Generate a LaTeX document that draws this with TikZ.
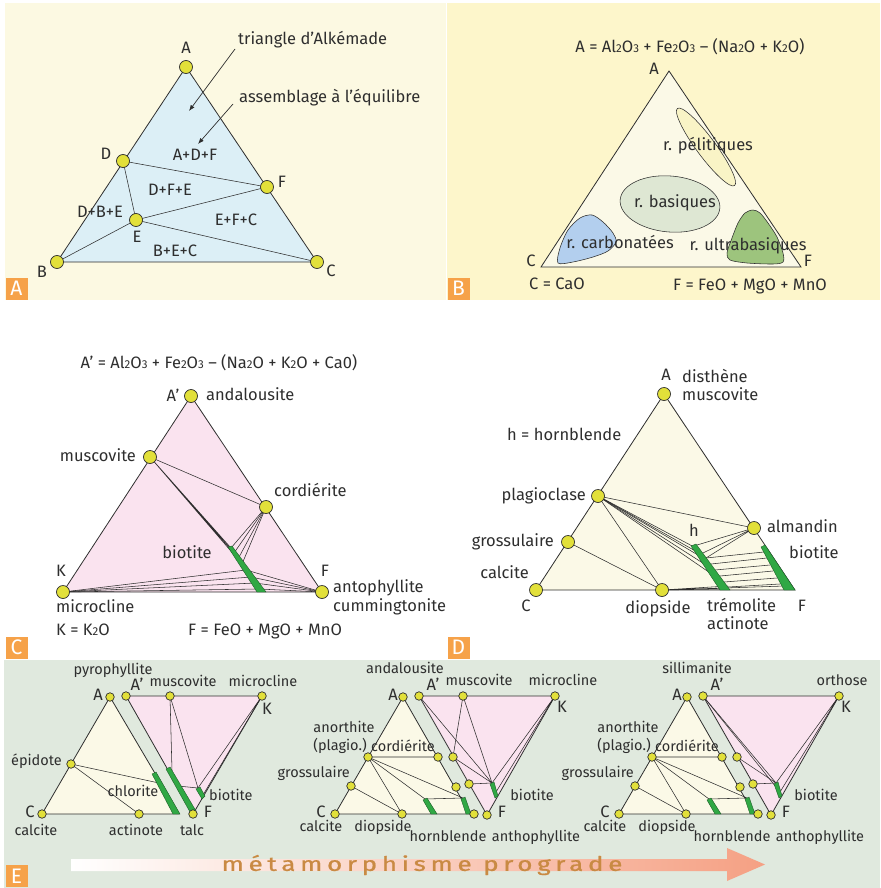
\documentclass[tikz,border=0pt]{standalone}
\usepackage{fontspec}
\setmainfont{Fira Sans}
\usepackage{graphicx}
\usepackage{tikz}
\usetikzlibrary{positioning, arrows.meta}
\definecolor{ink}{HTML}{2E2E2E}
\definecolor{bgA}{HTML}{FCF9E2}
\definecolor{bgB}{HTML}{FDF6CB}
\definecolor{bgE}{HTML}{E0E9DE}
\definecolor{triblue}{HTML}{DCEFF6}
\definecolor{tricream}{HTML}{FBF9E7}
\definecolor{tripink}{HTML}{FAE3EF}
\definecolor{dotyellow}{HTML}{E2E03A}
\definecolor{bandgreen}{HTML}{30A844}
\definecolor{bandedge}{HTML}{1E5E28}
\definecolor{pelyellow}{HTML}{F9F4C6}
\definecolor{basgreen}{HTML}{DEE7D3}
\definecolor{carbblue}{HTML}{B3CFEE}
\definecolor{ultragreen}{HTML}{9DC47D}
\definecolor{tagorange}{HTML}{F6A249}
\definecolor{arrowsalmon}{HTML}{F5A083}
\definecolor{progbrown}{HTML}{C98A43}
\newcommand{\subnum}[1]{\raisebox{-0.6pt}{\fontsize{11.5}{11.5}\selectfont #1}}
\tikzstyle{rim}     = [draw=ink, line width=0.8pt]
\tikzstyle{tie}     = [draw=ink, line width=0.55pt]
\tikzstyle{dot}     = [circle, draw=ink, line width=0.7pt, fill=dotyellow, minimum size=13pt, inner sep=0pt]
\tikzstyle{dotsm}   = [dot, minimum size=8.5pt]
\tikzstyle{band}    = [fill=bandgreen, draw=bandedge, line width=0.4pt]
\tikzstyle{lbl}     = [text=ink, inner sep=0pt, font=\fontsize{16.5}{18}\selectfont, text height=12pt, text depth=3.5pt]
\tikzstyle{lblsm}   = [lbl, font=\fontsize{14.5}{16}\selectfont, text height=10.5pt, text depth=3pt]
\tikzstyle{tag}     = [fill=tagorange, text=white, minimum size=22pt, inner sep=0pt, font=\fontsize{21}{21}\selectfont]
\tikzstyle{pointer} = [draw=ink, line width=0.7pt, -{Latex[length=6pt, width=4.5pt]}]
\tikzstyle{prog}    = [text=progbrown, inner sep=0pt, font=\fontsize{20}{20}\selectfont\addfontfeatures{LetterSpace=18, FakeBold=0.8}]
\begin{document}
\begin{tikzpicture}[x=1pt, y=-1pt]
            \useasboundingbox (0,0) rectangle (880,888);
            \fill[bgA] (5,3) rectangle (446,300);
            \fill[bgB] (447,3) rectangle (880,300);
            \fill[bgE] (4,660) rectangle (880,888);

            \coordinate (aA) at (186,67);
            \coordinate (aB) at (57,262);
            \coordinate (aC) at (317,262);
            \coordinate (aD) at (123,161);
            \coordinate (aE) at (136,220);
            \coordinate (aF) at (267,187);
            \filldraw[rim, fill=triblue] (aA) -- (aB) -- (aC) -- cycle;
            \draw[tie] (aD) -- (aF) -- (aE) -- (aD);
            \draw[tie] (aB) -- (aE) -- (aC);
            \foreach \p in {A,B,C,D,E,F} \node[dot] (a\p-d) at (a\p) {};
            \node[lbl] (aA-l) at (186,49) {A};
            \node[lbl] (aB-l) at (42,273) {B};
            \node[lbl] (aC-l) at (331,272) {C};
            \node[lbl] (aD-l) at (106,155) {D};
            \node[lbl] (aE-l) at (137,238) {E};
            \node[lbl] (aF-l) at (282,183) {F};
            \node[lbl] (adf) at (195,156) {A+D+F};
            \node[lbl] (dfe) at (170,191) {D+F+E};
            \node[lbl] (dbe) at (100,213) {D+B+E};
            \node[lbl] (efc) at (236,221) {E+F+C};
            \node[lbl] (bec) at (175,252) {B+E+C};
            \node[lbl, anchor=west] (alk) at (238,40) {triangle d’Alkémade};
            \node[lbl, anchor=west] (equ) at (239,98) {assemblage à l’équilibre};
            \coordinate (alk0) at (235,49);
            \coordinate (alk1) at (189,111);
            \coordinate (equ0) at (233,104);
            \coordinate (equ1) at (198,144);
            \draw[pointer] (alk0) -- (alk1);
            \draw[pointer] (equ0) -- (equ1);

            \coordinate (bA) at (669,71);
            \coordinate (bC) at (541,267);
            \coordinate (bF) at (801,267);
            \filldraw[rim, fill=tricream] (bA) -- (bC) -- (bF) -- cycle;
            \filldraw[tie, fill=pelyellow] (706,147) ellipse [x radius=48, y radius=9.5, rotate=-53.5];
            \filldraw[tie, fill=basgreen] (670,204) ellipse [x radius=50, y radius=28, rotate=-5];
            \filldraw[tie, fill=carbblue] plot[smooth cycle] coordinates {(558,263) (560,248) (568,230) (580,218) (592,215) (603,222) (613,233) (616,242) (608,251) (593,257) (573,262)};
            \filldraw[tie, fill=ultragreen] plot[smooth cycle] coordinates {(753,210) (745,213) (738,223) (732,238) (727,253) (730,260) (747,263) (773,264) (783,262) (783,253) (777,237) (768,223) (760,213)};
            \node[lbl] (bTitle) at (690,48) {A = Al\subnum{2}O\subnum{3} + Fe\subnum{2}O\subnum{3} – (Na\subnum{2}O + K\subnum{2}O)};
            \node[lbl] (bA-l) at (654,70) {A};
            \node[lbl] (bC-l) at (531,262) {C};
            \node[lbl] (bF-l) at (808,262) {F};
            \node[lbl] (pel) at (708,146) {r. pélitiques};
            \node[lbl] (bas) at (675,203) {r. basiques};
            \node[lbl] (carb) at (620,244) {r. carbonatées};
            \node[lbl] (ultra) at (748,246) {r. ultrabasiques};
            \node[lbl] (bCdef) at (557,285) {C = CaO};
            \node[lbl] (bFdef) at (750,286) {F = FeO + MgO + MnO};

            \coordinate (cA) at (191,396);
            \coordinate (cK) at (63,592);
            \coordinate (cF) at (322,592);
            \coordinate (cMus) at (150,457);
            \coordinate (cCrd) at (266,507);
            \foreach \i/\x/\y in {1/231/548, 2/234/553, 3/238/559, 4/242/564, 5/246/570, 6/251/577, 7/255/583, 8/259/589} \coordinate (cb\i) at (\x,\y);
            \filldraw[rim, fill=tripink] (cA) -- (cK) -- (cF) -- cycle;
            \draw[tie] (cMus) -- (cCrd);
            \draw[tie] (cMus) -- (cb1) (cMus) -- (cb2) (cMus) -- (cb4);
            \foreach \i in {1,...,4} \draw[tie] (cCrd) -- (cb\i);
            \foreach \i in {5,...,8} \draw[tie] (cK) -- (cb\i) -- (cF);
            \filldraw[band] (228,547) -- (232,546) -- (266,592) -- (257,592) -- cycle;
            \foreach \p in {A,K,F,Mus,Crd} \node[dot] (c\p-d) at (c\p) {};
            \node[lbl] (cTitle) at (219,364) {A’ = Al\subnum{2}O\subnum{3} + Fe\subnum{2}O\subnum{3} – (Na\subnum{2}O + K\subnum{2}O + Ca0)};
            \node[lbl] (cA-l) at (173,397) {A’};
            \node[lbl, right=8pt of cA-d] (cAnd-l) {andalousite};
            \node[lbl, left=7pt of cMus-d] (cMus-l) {muscovite};
            \node[lbl, anchor=west] (cCrd-l) at (274,492) {cordiérite};
            \node[lbl] (cBi-l) at (187,554) {biotite};
            \node[lbl] (cK-l) at (61,572) {K};
            \node[lbl] (cF-l) at (325,572) {F};
            \node[lbl, anchor=west] (cAnt-l) at (333,588) {antophyllite};
            \node[lbl, anchor=west] (cCum-l) at (333,607) {cummingtonite};
            \node[lbl, anchor=west] (cMic-l) at (56,608) {microcline};
            \node[lbl, anchor=west] (cKdef) at (56,631) {K = K\subnum{2}O};
            \node[lbl, anchor=west] (cFdef) at (188,631) {F = FeO + MgO + MnO};

            \coordinate (dA) at (664,394);
            \coordinate (dC) at (536,590);
            \coordinate (dF) at (795,590);
            \coordinate (dPl) at (598,496);
            \coordinate (dGr) at (568,542);
            \coordinate (dDi) at (662,590);
            \coordinate (dAl) at (754,528);
            \coordinate (dh0) at (697,545);
            \coordinate (dh1) at (696,548);
            \coordinate (dh2) at (699,553);
            \coordinate (dh3) at (703,558);
            \coordinate (dh4) at (709,567);
            \coordinate (dh5) at (716,577);
            \coordinate (dh6) at (703,553);
            \coordinate (dh7) at (722,589);
            \coordinate (dh8) at (728,586);
            \coordinate (db1) at (785,586);
            \filldraw[rim, fill=tricream] (dA) -- (dC) -- (dF) -- cycle;
            \foreach \xl/\yl/\xr/\yr [count=\i] in {706/558/764/552, 711/564/767/558, 715/570/770/565, 720/576/773/571, 724/582/777/578, 728/587/780/584} {
                \coordinate (dl\i) at (\xl,\yl);
                \coordinate (dr\i) at (\xr,\yr);
                \draw[tie] (dl\i) -- (dr\i);
            }
            \draw[tie] (dPl) -- (dAl) (dPl) -- (dDi) (dGr) -- (dDi);
            \foreach \i in {1,...,5} \draw[tie] (dPl) -- (dh\i);
            \draw[tie] (dAl) -- (dh0) (dAl) -- (dh6) (dAl) -- (dl1);
            \draw[tie] (dDi) -- (dh7) (dDi) -- (dh8) (dDi) -- (db1);
            \filldraw[band] (691,546) -- (696,544) -- (730,590) -- (720,590) -- cycle;
            \filldraw[band] (761,547) -- (765,545) -- (795,590) -- (784,590) -- cycle;
            \foreach \p in {A,C,Pl,Gr,Di,Al} \node[dot] (d\p-d) at (d\p) {};
            \node[lbl] (dA-l) at (666,376) {A};
            \node[lbl, anchor=west] (dDis-l) at (682,378) {disthène};
            \node[lbl, anchor=west] (dMus-l) at (682,396) {muscovite};
            \node[lbl, anchor=west] (dHb-l) at (507,436) {h = hornblende};
            \node[lbl, left=5pt of dPl-d] (dPl-l) {plagioclase};
            \node[lbl, left=7pt of dGr-d] (dGr-l) {grossulaire};
            \node[lbl, anchor=east] (dCa-l) at (529,574) {calcite};
            \node[lbl] (dC-l) at (526,607) {C};
            \node[lbl] (dDi-l) at (658,609) {diopside};
            \node[lbl, anchor=west] (dTr-l) at (707,607) {trémolite};
            \node[lbl, anchor=west] (dAc-l) at (707,625) {actinote};
            \node[lbl] (dF-l) at (802,607) {F};
            \node[lbl, right=6pt of dAl-d] (dAl-l) {almandin};
            \node[lbl, anchor=west] (dBi-l) at (789,554) {biotite};
            \node[lbl] (dh-l) at (694,532) {h};

            \coordinate (eaA) at (110,697);
            \coordinate (eaC) at (42,814);
            \coordinate (eaR) at (179,814);
            \coordinate (eaEp) at (71,764);
            \coordinate (eaAc) at (139,814);
            \coordinate (eaCh) at (159,783);
            \coordinate (eaAp) at (126,696);
            \coordinate (eaMu) at (170,696);
            \coordinate (eaK) at (262,696);
            \coordinate (eaF) at (193,814);
            \coordinate (eaCp) at (172,771);
            \coordinate (eaCq) at (178,786);
            \coordinate (eaBt) at (198,788);
            \coordinate (eaBl) at (203,795);
            \filldraw[rim, fill=tricream] (eaA) -- (eaC) -- (eaR) -- cycle;
            \filldraw[rim, fill=tripink] (eaAp) -- (eaK) -- (eaF) -- cycle;
            \draw[tie] (eaEp) -- (eaAc) (eaEp) -- (eaCh);
            \draw[tie] (eaMu) -- (eaCp) (eaMu) -- (eaBt) (eaCq) -- (eaBt) (eaK) -- (eaBt) (eaK) -- (eaBl);
            \filldraw[band] (152,774) -- (156,772) -- (180,814) -- (173,814) -- cycle;
            \filldraw[band] (166,769) -- (170,767) -- (196,811) -- (190,812) -- cycle;
            \filldraw[band] (196,789) -- (200,787) -- (205,796) -- (202,799) -- cycle;
            \foreach \q in {A,C,Ep,Ac,Ap,Mu,K,F} \node[dotsm] (ea\q-d) at (ea\q) {};
            \node[lblsm] (ea-py-l) at (113,671) {pyrophyllite};
            \node[lbl] (ea-A-l) at (98,696) {A};
            \node[lbl] (ea-Ap-l) at (137,686) {A’};
            \node[lblsm] (ea-mu-l) at (183,683) {muscovite};
            \node[lblsm] (ea-mi-l) at (263,683) {microcline};
            \node[lbl] (ea-K-l) at (267,710) {K};
            \node[lblsm, anchor=east] (ea-ep-l) at (62,762) {épidote};
            \node[lblsm] (ea-ch-l) at (133,793) {chlorite};
            \node[lbl] (ea-C-l) at (30,813) {C};
            \node[lblsm] (ea-ca-l) at (36,832) {calcite};
            \node[lblsm] (ea-ac-l) at (136,832) {actinote};
            \node[lblsm] (ea-ta-l) at (192,832) {talc};
            \node[lbl] (ea-F-l) at (208,813) {F};
            \node[lblsm, anchor=west] (ea-bi-l) at (209,797) {biotite};

            \foreach \dx/\p in {0/eb, 284/ec} {
                \begin{scope}[xshift=\dx pt]
                \coordinate (\p-A) at (403,697);
                \coordinate (\p-C) at (335,814);
                \coordinate (\p-R) at (470,814);
                \coordinate (\p-Rd) at (474,814);
                \coordinate (\p-An) at (368,757);
                \coordinate (\p-Cp) at (438,757);
                \coordinate (\p-Gr) at (351,786);
                \coordinate (\p-Di) at (402,814);
                \coordinate (\p-Rp) at (456,787);
                \coordinate (\p-Ha) at (425,799);
                \coordinate (\p-Hb) at (463,798);
                \coordinate (\p-Ap) at (419,696);
                \coordinate (\p-K) at (555,696);
                \coordinate (\p-F) at (487,815);
                \coordinate (\p-Cq) at (453,757);
                \coordinate (\p-Pp) at (469,784);
                \coordinate (\p-Bt) at (492,783);
                \coordinate (\p-Bl) at (496,792);
                \filldraw[rim, fill=tricream] (\p-A) -- (\p-C) -- (\p-R) -- cycle;
                \filldraw[rim, fill=tripink] (\p-Ap) -- (\p-K) -- (\p-F) -- cycle;
                \draw[tie] (\p-An) -- (\p-Cp) (\p-An) -- (\p-Di) (\p-Gr) -- (\p-Di) (\p-An) -- (\p-Ha) (\p-An) -- (\p-Hb) (\p-Ha) -- (\p-Hb);
                \draw[tie] (\p-Ap) -- (\p-Bt) (\p-Cq) -- (\p-Bt) (\p-K) -- (\p-Bt) (\p-K) -- (\p-Bl) (\p-Pp) -- (\p-Bt);
                \end{scope}
            }
            \coordinate (ebMu) at (463,696);
            \draw[tie] (ebMu) -- (eb-Cq) (ebMu) -- (eb-Bt);
            \draw[tie] (ec-Ap) -- (ec-Bl);
            \foreach \dx/\p in {0/eb, 284/ec} {
                \begin{scope}[xshift=\dx pt]
                \filldraw[band] (423,800) -- (427,798) -- (437,814) -- (431,814) -- cycle;
                \filldraw[band] (461,799) -- (465,797) -- (471,814) -- (466,814) -- cycle;
                \filldraw[band] (490,784) -- (494,782) -- (498,796) -- (495,798) -- cycle;
                \foreach \q in {A,C,Rd,An,Cp,Gr,Di,Rp,Ap,K,F,Cq,Pp} \node[dotsm] (\p-\q-d) at (\p-\q) {};
                \node[lbl] (\p-A-l) at (393,696) {A};
                \node[lbl] (\p-Ap-l) at (433,686) {A’};
                \node[lbl] (\p-K-l) at (562,708) {K};
                \node[lbl] (\p-C-l) at (321,813) {C};
                \node[lbl] (\p-F-l) at (502,813) {F};
                \node[lblsm] (\p-an-l) at (344,729) {anorthite};
                \node[lblsm] (\p-pl-l) at (340,747) {(plagio.)};
                \node[lblsm] (\p-co-l) at (403,748) {cordiérite};
                \node[lblsm, anchor=east] (\p-gr-l) at (350,774) {grossulaire};
                \node[lblsm] (\p-ca-l) at (321,828) {calcite};
                \node[lblsm] (\p-di-l) at (383,828) {diopside};
                \node[lblsm] (\p-ho-l) at (448,838) {hornblende};
                \node[lblsm] (\p-at-l) at (536,838) {anthophyllite};
                \node[lblsm] (\p-bi-l) at (532,797) {biotite};
                \end{scope}
            }
            \node[dotsm] (ebMu-d) at (ebMu) {};
            \node[lblsm] (eb-and-l) at (405,670) {andalousite};
            \node[lblsm] (eb-mu-l) at (479,682) {muscovite};
            \node[lblsm] (eb-mi-l) at (563,682) {microcline};
            \node[lblsm] (ec-si-l) at (697,670) {sillimanite};
            \node[lblsm] (ec-or-l) at (842,682) {orthose};

            \shade[left color=white, right color=arrowsalmon] (71,859) -- (727,859) -- (727,848) -- (765,864.5) -- (727,881) -- (727,871) -- (71,871) -- cycle;
            \node[prog] (prograde) at (422,865) {\scalebox{1.3}[1]{métamorphisme prograde}};

            \node[tag] (tagA) at (16.5,288.5) {A};
            \node[tag] (tagB) at (458.5,288.5) {B};
            \node[tag] (tagC) at (16.5,647.5) {C};
            \node[tag] (tagD) at (458.5,647.5) {D};
            \node[tag] (tagE) at (16.5,876) {E};
        \end{tikzpicture}
\end{document}
